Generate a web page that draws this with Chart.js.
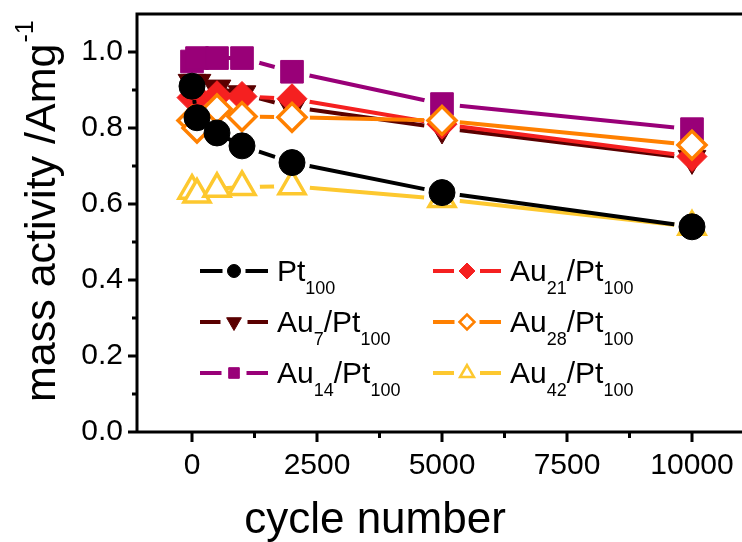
<!DOCTYPE html>
<html>
<head>
<meta charset="utf-8">
<script src="https://cdn.jsdelivr.net/npm/chart.js@4.4.0/dist/chart.umd.min.js"></script>
<style>
html, body { margin: 0; padding: 0; background: #fff; }
#wrap { width: 742px; height: 542px; position: relative; }
</style>
</head>
<body>
<div id="wrap"><canvas id="chart" width="742" height="542"></canvas></div>
<script>
// values
const cycles = [0, 100, 500, 1000, 2000, 5000, 10000];
const pt100 = [0.91, 0.827, 0.787, 0.753, 0.709, 0.63, 0.54];
const au7 = [0.92, 0.92, 0.905, 0.89, 0.855, 0.80, 0.72];
const au14 = [0.975, 0.984, 0.984, 0.984, 0.948, 0.863, 0.797];
const au21 = [0.88, 0.88, 0.885, 0.883, 0.877, 0.81, 0.725];
const au28 = [0.82, 0.80, 0.85, 0.83, 0.828, 0.82, 0.755];
const au42 = [0.635, 0.625, 0.64, 0.645, 0.647, 0.613, 0.54];
const xTicks = [0, 2500, 5000, 7500, 10000];
const xMinor = [1250, 3750, 6250, 8750];
const yTicks = [0, 0.2, 0.4, 0.6, 0.8, 1.0];
const yMinor = [0.1, 0.3, 0.5, 0.7, 0.9];

const FONT = '"Liberation Sans", Arial, sans-serif';

// drawing order: first one ends up on top
const series = [
    { name: [['Pt', '100']], values: pt100, color: '#000000', fill: '#000000', style: 'circle', r: 13, rot: 0, bw: 1, lr: 6.5 },
    { name: [['Au', '42'], ['/Pt', '100']], values: au42, color: '#fdc82f', fill: '#ffffff', style: 'triangle', r: 15, rot: 0, bw: 3.5, lr: 8 },
    { name: [['Au', '28'], ['/Pt', '100']], values: au28, color: '#ff8000', fill: '#ffffff', style: 'rectRot', r: 14, rot: 0, bw: 3.5, lr: 7.5 },
    { name: [['Au', '21'], ['/Pt', '100']], values: au21, color: '#f52020', fill: '#f52020', style: 'rectRot', r: 15, rot: 0, bw: 1, lr: 8 },
    { name: [['Au', '14'], ['/Pt', '100']], values: au14, color: '#990078', fill: '#990078', style: 'rect', r: 16, rot: 0, bw: 1, lr: 7.5 },
    { name: [['Au', '7'], ['/Pt', '100']], values: au7, color: '#5a0000', fill: '#5a0000', style: 'triangle', r: 16, rot: 180, bw: 1, lr: 8.5 }
];
// legend layout order (column by column)
const legendOrder = [0, 5, 4, 3, 2, 1];

const datasets = [];
series.forEach(s => {
    const pts = cycles.map((c, i) => ({ x: c, y: s.values[i] }));
    datasets.push({
        data: pts,
        showLine: false,
        pointStyle: s.style,
        pointRadius: s.r,
        pointRotation: s.rot,
        pointBackgroundColor: s.fill,
        pointBorderColor: s.color,
        pointBorderWidth: s.bw,
        pointHoverRadius: s.r,
        clip: false
    });
    datasets.push({
        data: pts,
        borderColor: s.color,
        borderWidth: 4,
        pointRadius: 0,
        pointHoverRadius: 0,
        fill: false,
        tension: 0,
        gapFor: 18,
        clip: false
    });
});

// leave a white gap between the connecting line and each symbol
const gapPlugin = {
    id: 'gaps',
    beforeDatasetDraw(chart, args) {
        const ds = chart.data.datasets[args.index];
        if (!ds.gapFor) return;
        const ctx = chart.ctx;
        ctx.save();
        ctx.beginPath();
        ctx.rect(0, 0, chart.width, chart.height);
        args.meta.data.forEach(p => {
            ctx.moveTo(p.x + ds.gapFor, p.y);
            ctx.arc(p.x, p.y, ds.gapFor, 0, Math.PI * 2, true);
        });
        ctx.clip('evenodd');
    },
    afterDatasetDraw(chart, args) {
        if (chart.data.datasets[args.index].gapFor) chart.ctx.restore();
    }
};

function drawSubText(ctx, parts, x, y, big, small) {
    parts.forEach(([main, sub]) => {
        ctx.font = big + 'px ' + FONT;
        ctx.fillText(main, x, y);
        x += ctx.measureText(main).width;
        ctx.font = small + 'px ' + FONT;
        ctx.fillText(sub, x, y + 13);
        x += ctx.measureText(sub).width;
    });
}

const framePlugin = {
    id: 'frame',
    afterDraw(chart) {
        const ctx = chart.ctx;
        const a = chart.chartArea;
        const xs = chart.scales.x, ys = chart.scales.y;
        ctx.save();
        ctx.strokeStyle = '#000';
        ctx.lineWidth = 3;
        ctx.lineCap = 'butt';
        ctx.beginPath();
        ctx.moveTo(a.left, a.top - 1.5);
        ctx.lineTo(a.left, a.bottom + 1.5);
        ctx.moveTo(a.left - 1.5, a.bottom);
        ctx.lineTo(chart.width, a.bottom);
        ctx.moveTo(a.left - 1.5, a.top);
        ctx.lineTo(chart.width, a.top);
        xTicks.forEach(v => { const px = xs.getPixelForValue(v); ctx.moveTo(px, a.bottom); ctx.lineTo(px, a.bottom + 10); });
        xMinor.forEach(v => { const px = xs.getPixelForValue(v); ctx.moveTo(px, a.bottom); ctx.lineTo(px, a.bottom + 6); });
        yTicks.forEach(v => { const py = ys.getPixelForValue(v); ctx.moveTo(a.left, py); ctx.lineTo(a.left - 9, py); });
        yMinor.forEach(v => { const py = ys.getPixelForValue(v); ctx.moveTo(a.left, py); ctx.lineTo(a.left - 5, py); });
        ctx.stroke();

        // axis titles
        ctx.fillStyle = '#000';
        ctx.textAlign = 'center';
        ctx.textBaseline = 'alphabetic';
        ctx.font = '44px ' + FONT;
        ctx.fillText('cycle number', 375, 533);

        ctx.save();
        ctx.translate(55, 402);
        ctx.rotate(-Math.PI / 2);
        ctx.textAlign = 'left';
        ctx.font = '43px ' + FONT;
        const t = 'mass activity /Amg';
        ctx.fillText(t, 0, 0);
        const w = ctx.measureText(t).width;
        ctx.font = '25px ' + FONT;
        ctx.fillText('-1', w + 1, -22);
        ctx.restore();

        // legend
        ctx.textAlign = 'left';
        legendOrder.forEach((si, k) => {
            const s = series[si];
            const col = Math.floor(k / 3), row = k % 3;
            const x0 = col === 0 ? 200 : 433;
            const y = 271 + row * 51;
            const mx = x0 + 34;
            ctx.strokeStyle = s.color;
            ctx.lineWidth = 4;
            ctx.beginPath();
            ctx.moveTo(x0, y); ctx.lineTo(mx - s.lr - 5, y);
            ctx.moveTo(mx + s.lr + 5, y); ctx.lineTo(x0 + 68, y);
            ctx.stroke();
            ctx.fillStyle = s.fill;
            ctx.lineWidth = s.bw > 2 ? 2.5 : 1;
            Chart.helpers.drawPoint(ctx, { pointStyle: s.style, radius: s.lr, rotation: s.rot, borderWidth: ctx.lineWidth }, mx, y);
            ctx.fillStyle = '#000';
            drawSubText(ctx, s.name, x0 + 77, y + 10, 30, 18);
        });
        ctx.restore();
    }
};

function noPad(s) {
    s.paddingLeft = 0; s.paddingRight = 0; s.paddingTop = 0; s.paddingBottom = 0;
}

new Chart(document.getElementById('chart'), {
    type: 'line',
    data: { datasets: datasets },
    plugins: [gapPlugin, framePlugin],
    options: {
        responsive: false,
        animation: false,
        events: [],
        layout: { autoPadding: false, padding: { top: 14, right: 0, left: 0, bottom: 0 } },
        plugins: { legend: { display: false }, tooltip: { enabled: false } },
        scales: {
            x: {
                type: 'linear',
                min: -1100,
                max: 11000,
                grid: { display: false, drawTicks: false },
                border: { display: false },
                afterBuildTicks: s => { s.ticks = xTicks.map(v => ({ value: v })); },
                afterFit: s => { s.height = 110; noPad(s); },
                ticks: { color: '#000', padding: 16, maxRotation: 0, autoSkip: false, font: { family: FONT, size: 30 }, callback: v => String(v) }
            },
            y: {
                type: 'linear',
                min: 0,
                max: 1.1,
                grid: { display: false, drawTicks: false },
                border: { display: false },
                afterBuildTicks: s => { s.ticks = yTicks.map(v => ({ value: v })); },
                afterFit: s => { s.width = 137; noPad(s); },
                ticks: { color: '#000', padding: 14, font: { family: FONT, size: 30 }, callback: v => v.toFixed(1) }
            }
        }
    }
});
</script>
</body>
</html>
